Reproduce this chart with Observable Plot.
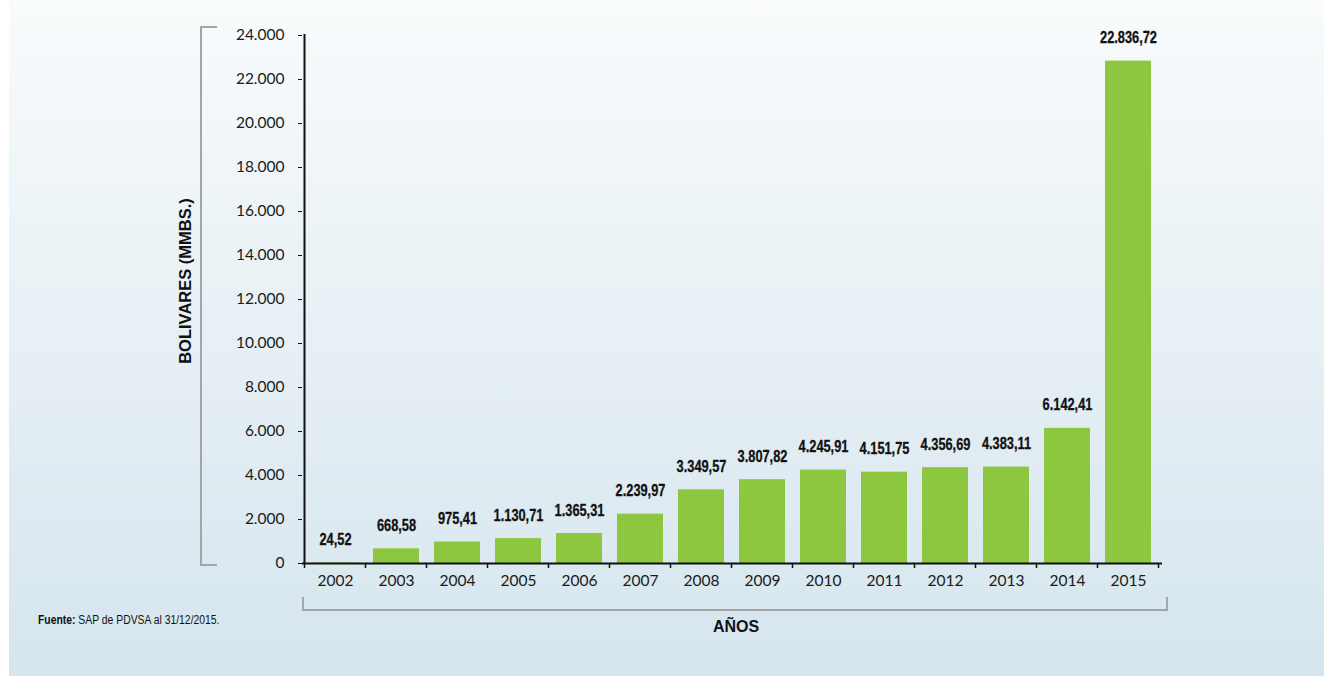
<!DOCTYPE html>
<html>
<head>
<meta charset="utf-8">
<script src="https://cdn.jsdelivr.net/npm/d3@7"></script>
<script src="https://cdn.jsdelivr.net/npm/@observablehq/plot@0.6"></script>
<style>
  html, body { margin: 0; padding: 0; background: #ffffff; }
  #wrap { position: relative; width: 1324px; height: 676px; overflow: hidden; }
  #bg { position: absolute; left: 9px; top: 0; width: 1315px; height: 676px;
        background: linear-gradient(to bottom, #f9fbfc 0%, #eaf2f6 40%, #d5e5ee 100%); }
  #chart { position: absolute; left: 0; top: 0; }
  .bracket { position: absolute; border-color: #a3a6a8; border-style: solid; }
  #brk-left { left: 200px; top: 26px; width: 15px; height: 536px; border-width: 2px 0 2px 2px; }
  #brk-bottom { left: 302px; top: 597px; width: 862px; height: 12px; border-width: 0 2px 2px 2px; }
  #ylabel { position: absolute; left: 185px; top: 281px; transform: translate(-50%, -50%) rotate(-90deg);
            font-family: "Liberation Sans", Arial, sans-serif; font-weight: bold; font-size: 16.5px;
            color: #111; white-space: nowrap; }
  #xlabel { position: absolute; left: 736px; top: 627px; transform: translate(-50%, -50%);
            font-family: "Liberation Sans", Arial, sans-serif; font-weight: bold; font-size: 16px;
            color: #111; white-space: nowrap; }
  #source { position: absolute; left: 38px; top: 620px; transform-origin: 0 50%; transform: translateY(-50%) scaleX(0.83);
            font-family: "Liberation Sans", Arial, sans-serif; font-size: 12.5px;
            color: #111; white-space: nowrap; }
</style>
</head>
<body>
<div id="wrap">
  <div id="bg"></div>
  <div class="bracket" id="brk-left"></div>
  <div class="bracket" id="brk-bottom"></div>
  <div id="chart"></div>
  <div id="ylabel"></div>
  <div id="xlabel"></div>
  <div id="source"></div>
</div>
<script>
// ---- Data ----
const years = ["2002", "2003", "2004", "2005", "2006", "2007", "2008", "2009", "2010", "2011", "2012", "2013", "2014", "2015"];
const values = [24.52, 668.58, 975.41, 1130.71, 1365.31, 2239.97, 3349.57, 3807.82, 4245.91, 4151.75, 4356.69, 4383.11, 6142.41, 22836.72];
const yTicks = [0, 2000, 4000, 6000, 8000, 10000, 12000, 14000, 16000, 18000, 20000, 22000, 24000];
const yLabel = "BOLIVARES (MMBS.)";
const xLabel = "AÑOS";
const sourceBold = "Fuente:";
const sourceText = " SAP de PDVSA al 31/12/2015.";

const data = years.map((year, i) => ({year, value: values[i]}));

const loc = d3.formatLocale({decimal: ",", thousands: ".", grouping: [3], currency: ["", ""]});
const fmtLabel = loc.format(",.2f");
const fmtTick = loc.format(",.0f");

const chart = Plot.plot({
  width: 1324,
  height: 676,
  marginLeft: 302,
  marginRight: 162,
  marginTop: 35,
  marginBottom: 113,
  style: {background: "transparent", fontFamily: "Lato, sans-serif", fontSize: "15.5px", color: "#1a1a1a", overflow: "visible"},
  x: {domain: years, paddingInner: 0.24, paddingOuter: 0.12, label: null},
  y: {domain: [0, 24000], label: null},
  marks: [
    Plot.barY(data, {x: "year", y: "value", fill: "#8dc63f"}),
    Plot.text(data, {x: "year", y: "value", text: d => fmtLabel(d.value), dy: -23,
      fontWeight: "bold", fontFamily: "'Liberation Sans', Arial, sans-serif", fontSize: 16, fill: "#111",
      stroke: "#111", strokeWidth: 0.3, className: "barlabel"}),
    Plot.axisY({ticks: yTicks, tickFormat: fmtTick, tickSize: 4, tickPadding: 14, fontSize: 15.5, label: null, stroke: "#111"}),
    Plot.axisX({tickSize: 0, tickPadding: 11, fontSize: 15.5, label: null}),
    Plot.ruleY([0], {stroke: "#111", strokeWidth: 2})
  ]
});
document.getElementById("chart").appendChild(chart);

// Condense the bar labels (the original uses a condensed bold face)
d3.select(chart).selectAll(".barlabel text").each(function () {
  const w = this.getComputedTextLength();
  this.setAttribute("textLength", (w * 0.8).toFixed(1));
  this.setAttribute("lengthAdjust", "spacingAndGlyphs");
});

// Axis line on the left and category boundary ticks, from the plot's own scales
const sx = chart.scale("x");
const sy = chart.scale("y");
const svg = d3.select(chart);
const gap = (sx.step - sx.bandwidth) / 2;
const bounds = years.map(y => sx.apply(y) - gap);
bounds.push(sx.apply(years[years.length - 1]) + sx.bandwidth + gap);
const y0 = sy.apply(0);
svg.append("line")
  .attr("x1", bounds[0]).attr("x2", bounds[0])
  .attr("y1", sy.apply(24000) - 1).attr("y2", y0 + 1)
  .attr("stroke", "#111").attr("stroke-width", 2);
svg.append("g").selectAll("line").data(bounds).join("line")
  .attr("x1", d => d).attr("x2", d => d)
  .attr("y1", y0).attr("y2", y0 + 5)
  .attr("stroke", "#111").attr("stroke-width", 1.5);

document.getElementById("ylabel").textContent = yLabel;
document.getElementById("xlabel").textContent = xLabel;
const src = document.getElementById("source");
const b = document.createElement("b");
b.textContent = sourceBold;
src.appendChild(b);
src.appendChild(document.createTextNode(sourceText));
</script>
</body>
</html>
